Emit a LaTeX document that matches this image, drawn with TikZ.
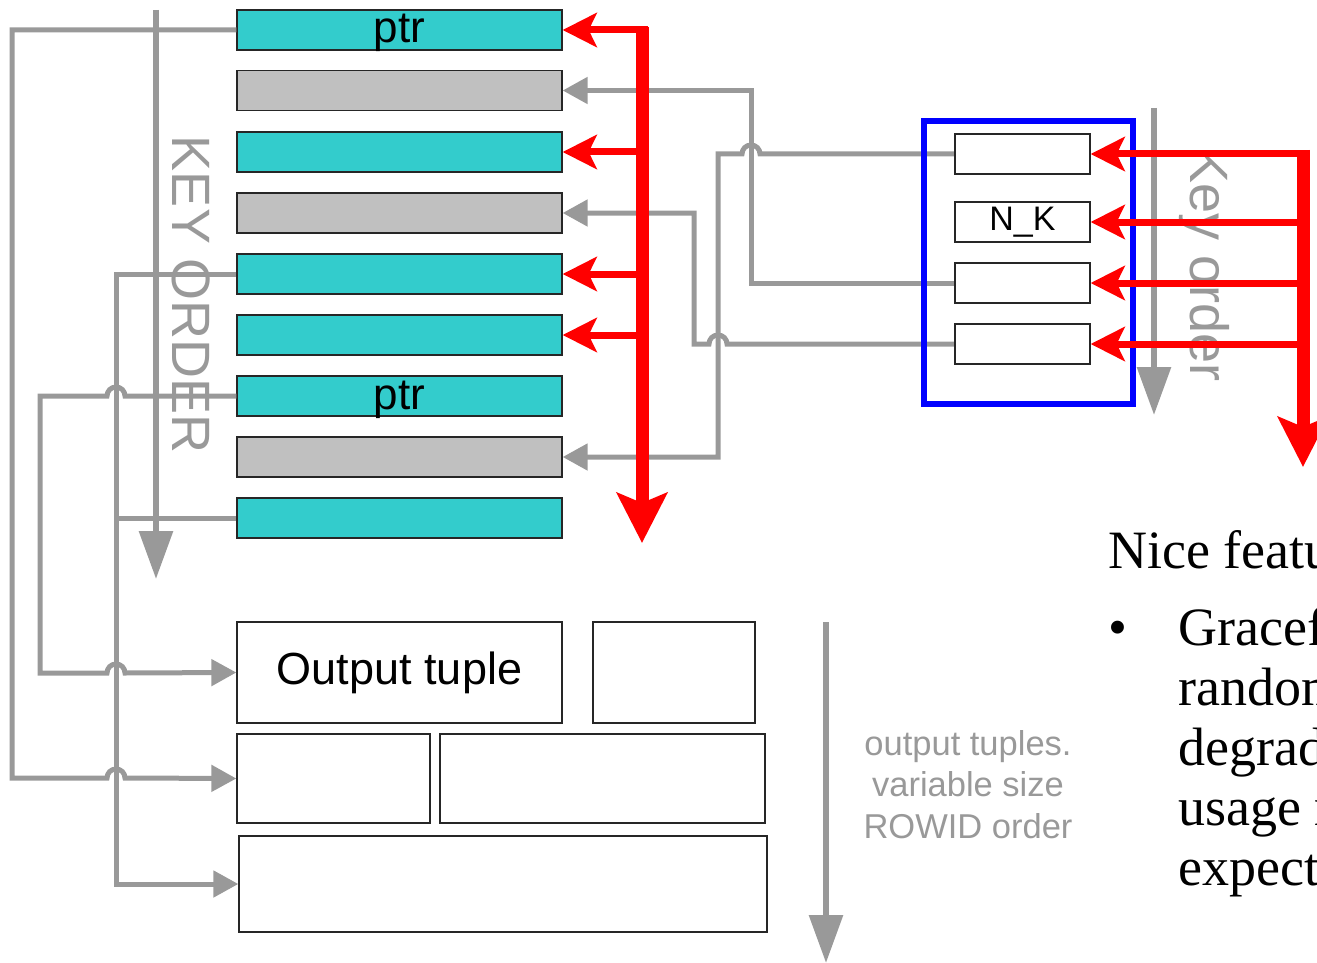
\documentclass[tikz,border=0pt]{standalone}
\usepackage{fontspec}
\setmainfont{Liberation Serif}
\newfontfamily\arialf{Liberation Sans}
\usetikzlibrary{arrows.meta}
\definecolor{tealbox}{RGB}{51,204,204}
\definecolor{greybox}{RGB}{192,192,192}
\definecolor{wire}{RGB}{153,153,153}
\definecolor{ptrred}{RGB}{255,0,0}
\definecolor{frameblue}{RGB}{0,0,255}

\begin{document}
\begin{tikzpicture}[x=1pt,y=-1pt,
  slot/.style={draw=black!85, line width=1.3pt, minimum width=325pt, minimum height=40pt,
    inner sep=0pt, font=\arialf\fontsize{44}{44}\selectfont},
  ptrslot/.style={slot, fill=tealbox},
  freeslot/.style={slot, fill=greybox},
  ptrtext/.style={text height=26pt, text depth=0pt},
  tuplebox/.style={draw=black!85, line width=1.3pt, fill=white, inner sep=0pt,
    font=\arialf\fontsize{45}{45}\selectfont},
  keyslot/.style={draw=black!85, line width=1.3pt, fill=white, minimum width=135pt,
    minimum height=40pt, inner sep=0pt, font=\arialf\fontsize{34}{34}\selectfont},
  wireln/.style={draw=wire, line width=5pt},
  wirearr/.style={wireln, -{Triangle[length=25pt,width=26pt]}},
  bigwire/.style={draw=wire, line width=6pt, -{Triangle[length=48pt,width=33pt]}},
  redthin/.style={draw=ptrred, line width=7pt, -{Stealth[length=34pt,width=34pt,inset=8pt]}},
  redthick/.style={draw=ptrred, line width=13pt, -{Stealth[length=50pt,width=50pt,inset=10pt]}},
  axislabel/.style={text=wire, font=\arialf\fontsize{54}{54}\selectfont, rotate=-90,
    anchor=base, inner sep=0pt},
  prose/.style={font=\fontsize{54}{60}\selectfont, inner sep=0pt, anchor=base west, align=left},
]
\useasboundingbox (0,0) rectangle (1317,963);

% ---- slot array (key order) ----
\node[ptrslot, ptrtext] (b1) at (399.5,30) {ptr};
\node[freeslot] (b2) at (399.5,90.5) {};
\node[ptrslot]  (b3) at (399.5,152)  {};
\node[freeslot] (b4) at (399.5,213)  {};
\node[ptrslot]  (b5) at (399.5,274)  {};
\node[ptrslot]  (b6) at (399.5,335)  {};
\node[ptrslot, ptrtext] (b7) at (399.5,396) {ptr};
\node[freeslot] (b8) at (399.5,457)  {};
\node[ptrslot]  (b9) at (399.5,518)  {};

% ---- output tuples (ROWID order) ----
\node[tuplebox, minimum width=325pt, minimum height=101pt] (o1) at (399.5,672.5) {Output tuple};
\node[tuplebox, minimum width=162pt, minimum height=101pt] (o2) at (674,672.5) {};
\node[tuplebox, minimum width=193pt, minimum height=89pt]  (o3) at (333.5,778.5) {};
\node[tuplebox, minimum width=325pt, minimum height=89pt]  (o4) at (602.5,778.5) {};
\node[tuplebox, minimum width=528pt, minimum height=96pt]  (o5) at (503,884) {};

% ---- direction arrows and their labels ----
\coordinate (kaTop) at (156,10);   \coordinate (kaEnd) at (156,579);
\coordinate (raTop) at (826,622);  \coordinate (raEnd) at (826,963);
\coordinate (kbTop) at (1154,108); \coordinate (kbEnd) at (1154,415);
\draw[bigwire] (kaTop) -- (kaEnd);
\draw[bigwire] (raTop) -- (raEnd);
\draw[bigwire] (kbTop) -- (kbEnd);
\node[axislabel] (keyorderL) at (172,295) {KEY ORDER};
\node[axislabel] (keyorderR) at (1190,265) {Key order};
% multi-line node: the base anchor sits on the last line
\node[text=wire, font=\arialf\fontsize{34.5}{41.5}\selectfont, align=center, anchor=base, inner sep=0pt]
  (rowid) at (968,838) {output tuples.\\variable size\\ROWID order};

% ---- pointers from slots to output tuples ----
\draw[wirearr] (b1.west) -- (12,30) -- (12,778) -- (107,778)
  arc[start angle=180,end angle=360,radius=9] -- (o3.west);
\draw[wirearr] (b5.west) -- (116,274) -- (116,884) -- (o5.west);
\draw[wireln] (b9.west) -- (116,518);
\draw[wirearr] (b7.west) -- (125,396) arc[start angle=0,end angle=-180,radius=9]
  -- (40,396) -- (40,673) -- (107,673) arc[start angle=180,end angle=360,radius=9] -- (o1.west);

% ---- key buffer ----
\node[keyslot] (k1) at (1022.5,154) {};
\node[keyslot] (k2) at (1022.5,222) {N\_K};
\node[keyslot] (k3) at (1022.5,283) {};
\node[keyslot] (k4) at (1022.5,344) {};

% links from key buffer to free slots
\draw[wirearr] (k1.west) -- (760,154) arc[start angle=0,end angle=-180,radius=9]
  -- (718,154) -- (718,457) -- (b8.east);
\draw[wirearr] (k3.west) -- (751,283) -- (751,90.5) -- (b2.east);
\draw[wirearr] (k4.west) -- (727,344) arc[start angle=0,end angle=-180,radius=9]
  -- (694,344) -- (694,213) -- (b4.east);

\node[draw=frameblue, line width=6pt, minimum width=209pt, minimum height=283pt, inner sep=0pt]
  (kframe) at (1028.5,262.5) {};
\node[keyslot] at (k1) {};
\node[keyslot] at (k2) {N\_K};
\node[keyslot] at (k3) {};
\node[keyslot] at (k4) {};

% ---- red scan arrows ----
\coordinate (lsTop) at (642,27);   \coordinate (lsEnd) at (642,543);
\draw[redthick] (lsTop) -- (lsEnd);
\draw[redthin] (648,30) -- (b1.east);
\draw[redthin] (642,152) -- (b3.east);
\draw[redthin] (642,274) -- (b5.east);
\draw[redthin] (642,335) -- (b6.east);

\coordinate (rsTop) at (1303,150); \coordinate (rsEnd) at (1303,467);
\draw[redthick] (rsTop) -- (rsEnd);
\draw[redthin] (1309,154) -- (k1.east);
\draw[redthin] (1303,222) -- (k2.east);
\draw[redthin] (1303,283) -- (k3.east);
\draw[redthin] (1303,344) -- (k4.east);

% ---- notes ----
\node[prose] (nice) at (1108,568) {Nice featu};
\node[prose] (bul) at (1108,645) {\textbullet};
\node[prose] (grace) at (1178,885) {Gracef\\random\\degrad\\usage m\\expect};
\end{tikzpicture}
\end{document}
